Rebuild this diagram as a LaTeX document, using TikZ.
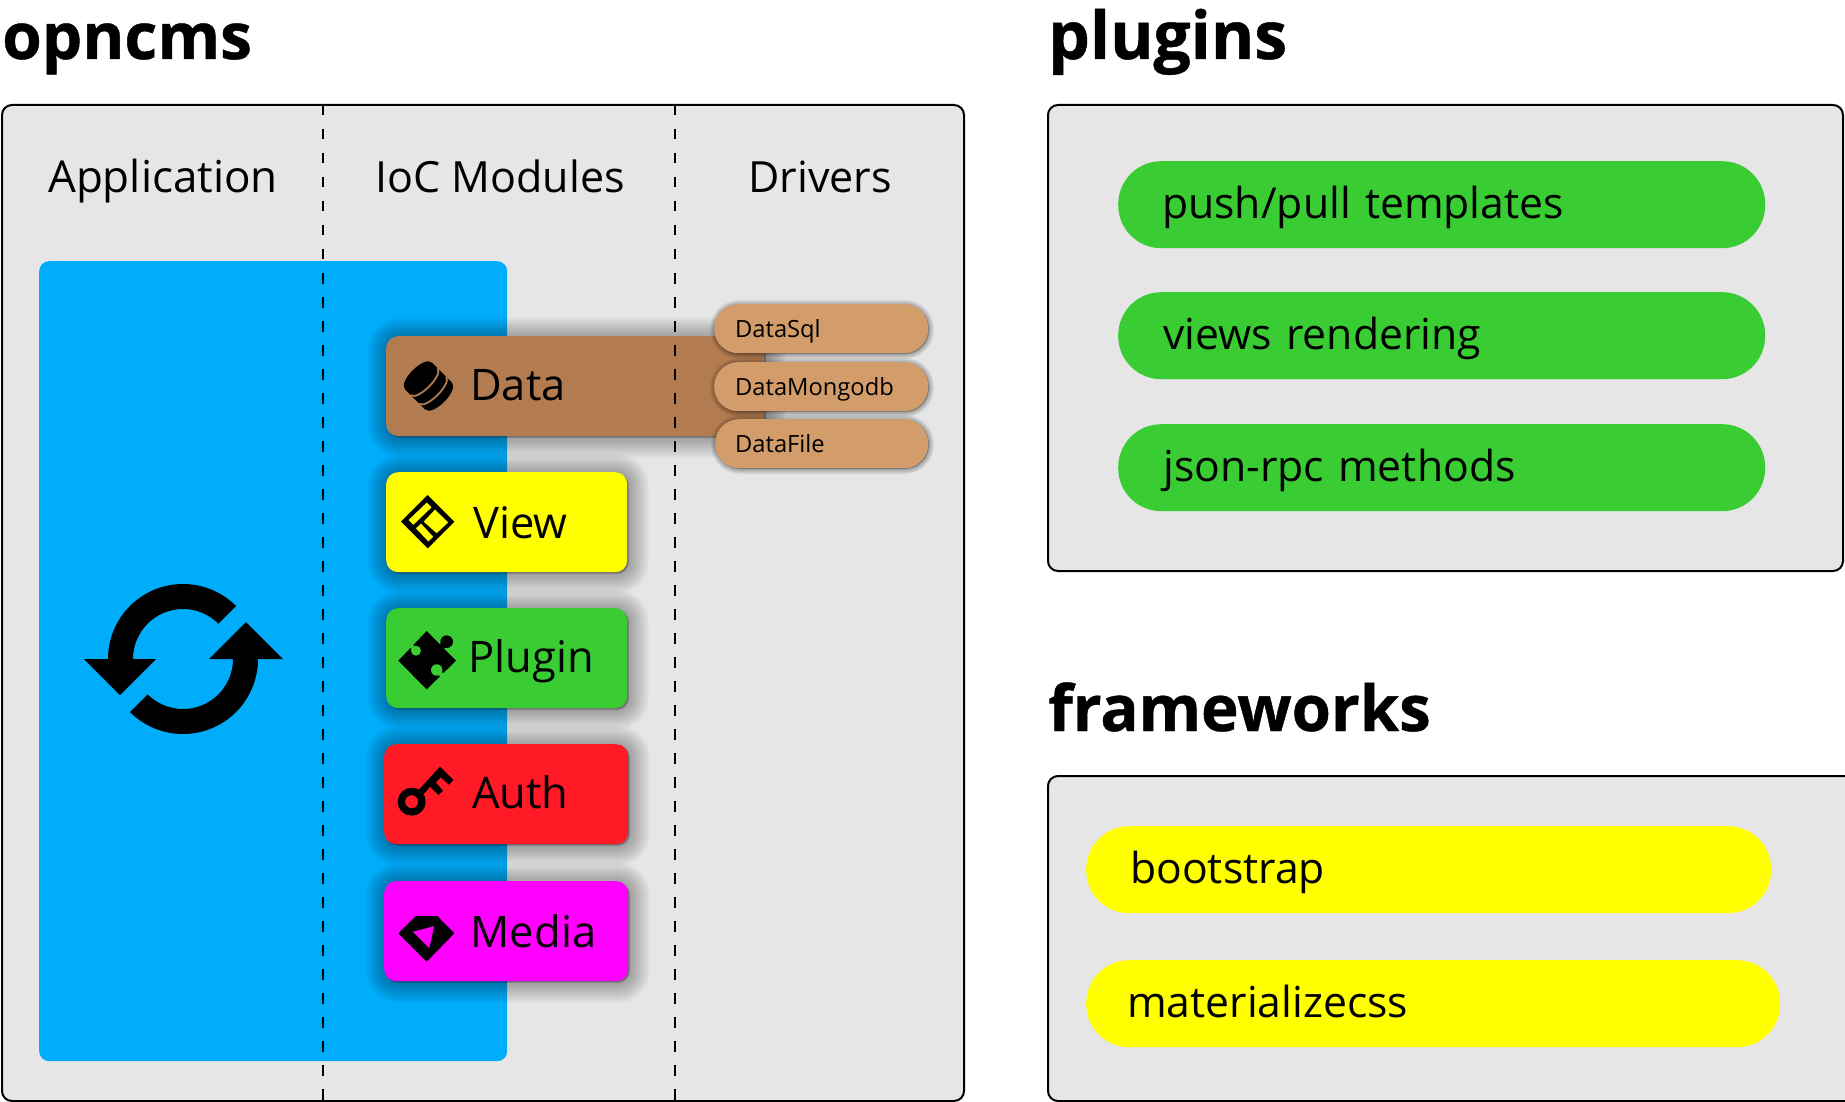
\documentclass[tikz,border=0pt]{standalone}
\usepackage{fontspec}
\usepackage{tikz}
\setmainfont{Open Sans}[BoldFeatures={FakeBold=0.7}]

\definecolor{panel_gray}{HTML}{E6E6E6}
\definecolor{app_blue}{HTML}{00ADFB}
\definecolor{data_brown}{HTML}{B37C50}
\definecolor{driver_tan}{HTML}{D29C6B}
\definecolor{plain_green}{HTML}{39CD33}
\definecolor{plain_yellow}{HTML}{FFFF00}
\definecolor{auth_red}{HTML}{FF1A25}
\definecolor{media_pink}{HTML}{FF00FF}

\begin{document}
\begin{tikzpicture}[x=1pt, y=1pt, line join=miter,
		panel_style/.style={draw=black,line width=2pt,fill=panel_gray,rounded corners=10pt,anchor=north west,inner sep=0pt,outer sep=0pt},
		title_style/.style={anchor=base west,inner sep=0pt,font=\fontsize{64}{64}\selectfont\bfseries},
		column_style/.style={anchor=base,inner sep=0pt,font=\fontsize{43}{43}\selectfont},
		divider_style/.style={draw=black,line width=2pt,dash pattern=on 10.5pt off 13.5pt},
		module_layer/.style={preaction={draw=black,fill=black,line width=#1,opacity=0.03,transform canvas={xshift=1.5pt,yshift=-1.5pt}}},
		driver_layer/.style={preaction={draw=black,fill=black,line width=#1,opacity=0.06,transform canvas={xshift=0.8pt,yshift=-0.8pt}}},
		module_style/.style={anchor=north west,inner sep=0pt,rounded corners=12pt,align=left,minimum height=100pt,
			font=\fontsize{43.5}{43.5}\selectfont,text height=37pt,text depth=9pt,
			module_layer=40pt,module_layer=36pt,module_layer=32pt,module_layer=28pt,module_layer=24pt,module_layer=20pt,
			module_layer=16pt,module_layer=12pt,module_layer=8pt,module_layer=4pt},
		driver_style/.style={anchor=north west,inner sep=0pt,rounded corners=24pt,fill=driver_tan,align=left,text width=214pt,
			minimum height=49pt,font=\fontsize{23.7}{23.7}\selectfont,text height=20pt,text depth=2pt,
			driver_layer=10pt,driver_layer=8pt,driver_layer=6pt,driver_layer=4pt,driver_layer=2pt},
		pill_style/.style={anchor=north west,inner sep=0pt,rounded corners=43pt,align=left,minimum height=87pt,
			font=\fontsize{42.7}{42.7}\selectfont,text height=38pt,text depth=10pt}]

		\useasboundingbox (0,0) rectangle (1845,-1102);

		% titles
		\node[title_style] (t_opncms) at (2,-59) {opncms};
		\node[title_style,font=\fontsize{66}{66}\selectfont\bfseries] (t_plugins) at (1048,-59) {plugins};
		\node[title_style,font=\fontsize{63.5}{63.5}\selectfont\bfseries] (t_frameworks) at (1048,-731) {frameworks};

		% panels
		\node[panel_style,minimum width=962pt,minimum height=996pt] (p_opncms) at (2,-105) {};
		\node[panel_style,minimum width=795pt,minimum height=466pt] (p_plugins) at (1048,-105) {};
		\node[panel_style,minimum width=810pt,minimum height=325pt] (p_frameworks) at (1048,-776) {};

		% application block
		\node[anchor=north west,inner sep=0pt,fill=app_blue,rounded corners=10pt,minimum width=468pt,minimum height=800pt] (n_app) at (39,-261) {};

		\node[column_style,font=\fontsize{44}{44}\selectfont] (c_app) at (163,-193) {Application};
		\node[column_style] (c_ioc) at (500,-193) {IoC Modules};
		\node[column_style] (c_drv) at (820,-193) {Drivers};

		% modules
		\node[module_style,fill=data_brown,text width=378pt] (n_data) at (386,-336) {\hspace*{84pt}Data};
		\node[module_style,fill=plain_yellow,text width=241pt,text height=39pt,text depth=7pt] (n_view) at (386,-472) {\hspace*{87pt}View};
		\node[module_style,fill=plain_green,text width=241pt,text height=37pt,text depth=9pt] (n_plugin) at (386,-608) {\hspace*{82.5pt}Plugin};
		\node[module_style,fill=auth_red,text width=244pt] (n_auth) at (384,-744) {\hspace*{88pt}Auth};
		\node[module_style,fill=media_pink,text width=244pt,text height=39pt,text depth=7pt] (n_media) at (384,-881) {\hspace*{86.5pt}Media};

		% dividers
		\coordinate (d1a) at (323,-105);
		\coordinate (d1b) at (323,-1101);
		\coordinate (d2a) at (675,-105);
		\coordinate (d2b) at (675,-1101);
		\draw[divider_style] (d1a) -- (d1b);
		\draw[divider_style] (d2a) -- (d2b);

		% drivers
		\node[driver_style] (n_sql) at (714,-304) {\hspace*{21pt}DataSql};
		\node[driver_style] (n_mongo) at (714,-362) {\hspace*{21pt}DataMongodb};
		\node[driver_style,text width=213pt] (n_file) at (715,-419) {\hspace*{20pt}DataFile};

		% plugins and frameworks
		\node[pill_style,fill=plain_green,text width=647pt] (n_push) at (1118,-161) {\hspace*{44pt}push/pull templates};
		\node[pill_style,fill=plain_green,text width=647pt] (n_views) at (1118,-292) {\hspace*{45pt}views rendering};
		\node[pill_style,fill=plain_green,text width=647pt] (n_json) at (1118,-424) {\hspace*{45pt}json-rpc methods};
		\node[pill_style,fill=plain_yellow,text width=685pt] (n_boot) at (1086,-826) {\hspace*{44pt}bootstrap};
		\node[pill_style,fill=plain_yellow,text width=694pt] (n_mat) at (1086,-960) {\hspace*{41pt}materializecss};

		% refresh icon
		\fill[black] (183,-659) ++(45:75) arc (45:180:75) -- (84,-659) -- (120,-695) -- (156,-659) -- (133,-659) arc (180:45:50) -- cycle;
		\fill[black] (183,-659) ++(225:75) arc (225:360:75) -- (283,-659) -- (246,-622) -- (209,-659) -- (233,-659) arc (360:225:50) -- cycle;

		% data icon
		\begin{scope}[shift={(428.5,-386)},rotate=45]
			\fill[black] (-19,14) .. controls (-19,25) and (19,25) .. (19,14) -- (19,-14) .. controls (19,-25) and (-19,-25) .. (-19,-14) -- cycle;
			\draw[data_brown,line width=1.8pt] (-19,6) .. controls (-18,-3) and (18,-3) .. (19,6);
			\draw[data_brown,line width=1.8pt] (-19,-6) .. controls (-18,-15) and (18,-15) .. (19,-6);
		\end{scope}

		% view icon
		\begin{scope}[shift={(427.7,-521.7)}]
			\fill[black,even odd rule] (0,26.7) -- (26.7,0) -- (0,-26.7) -- (-26.7,0) -- cycle
				(-19.3,1.7) -- (-1,19.3) -- (4,14.3) -- (-14.3,-3.3) -- cycle
				(7.3,12.3) -- (20.7,-0.7) -- (9,-11.7) -- (-4.3,0) -- cycle
				(-12,-6.7) -- (-6.7,-1.7) -- (5.7,-15) -- (0.7,-20) -- cycle;
		\end{scope}

		% plugin icon
		\fill[black] (426.7,-631) -- (456,-660.7) -- (426.7,-689.3) -- (398.3,-660.7) -- cycle;
		\fill[black] (446.7,-641.7) circle (6.3);
		\draw[black,line width=6pt] (446.7,-641.7) -- (441,-647.4);
		\fill[plain_green] (416,-650.7) circle (5);
		\draw[plain_green,line width=4pt] (416,-650.7) -- (408,-642.7);
		\fill[plain_green] (436.7,-670) circle (5.7);
		\draw[plain_green,line width=4.5pt] (436.7,-670) -- (446,-679.3);

		% key icon
		\draw[black,line width=7.3pt] (411.7,-801.7) circle (10.3);
		\fill[black] (421.7,-786.7) -- (440,-766.7) -- (453.3,-780) -- (449,-784.7) -- (440.7,-777.3) -- (435.7,-782.3) -- (443,-790.7) -- (438.3,-795) -- (430,-786.7) -- (425,-792.7) -- (420,-797) -- (416,-792) -- cycle;

		% gem icon
		\fill[black,even odd rule] (416,-916) -- (437.3,-916) -- (454.3,-933.3) -- (426.7,-961.7) -- (398.3,-933.3) -- cycle
			(412.7,-931.7) -- (434.3,-926) -- (429.3,-948.3) -- cycle;

\end{tikzpicture}
\end{document}
